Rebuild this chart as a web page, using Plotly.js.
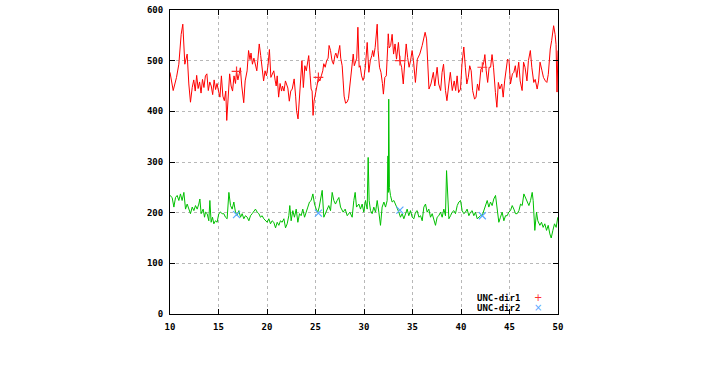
<!DOCTYPE html>
<html>
<head>
<meta charset="utf-8">
<script src="https://cdn.plot.ly/plotly-3.0.1.min.js"></script>
<style>html,body{margin:0;padding:0;background:#fff;}#chart{width:728px;height:382px;}</style>
</head>
<body>
<div id="chart"></div>
<script>
// UNC-dir1 line (red)
const redX = [10.00,10.33,10.67,10.91,11.15,11.32,11.53,11.77,11.94,12.11,12.29,12.45,12.6,12.75,12.9,13.05,13.2,13.35,13.5,13.65,13.8,13.95,14.1,14.25,14.4,14.55,14.7,14.85,15.0,15.15,15.3,15.45,15.6,15.75,15.85,16.0,16.15,16.3,16.45,16.6,16.75,16.86,17.0,17.15,17.25,17.4,17.6,17.75,17.95,18.1,18.25,18.35,18.5,18.65,18.8,18.95,19.05,19.2,19.35,19.5,19.65,19.8,19.95,20.1,20.25,20.4,20.55,20.7,20.85,20.95,21.05,21.2,21.35,21.5,21.6,21.75,21.9,22.0,22.15,22.3,22.45,22.6,22.8,22.95,23.05,23.2,23.35,23.5,23.6,23.75,23.9,24.05,24.2,24.3,24.45,24.55,24.65,24.75,24.85,25.0,25.15,25.3,25.45,25.6,25.75,25.85,26.0,26.15,26.3,26.4,26.55,26.7,26.85,27.0,27.1,27.25,27.4,27.5,27.6,27.75,27.85,27.95,28.1,28.25,28.4,28.55,28.68,28.8,28.89,29.0,29.13,29.25,29.37,29.5,29.6,29.75,29.9,30.0,30.15,30.33,30.5,30.65,30.8,30.9,31.0,31.15,31.36,31.45,31.6,31.75,31.9,32.0,32.15,32.3,32.45,32.5,32.6,32.75,32.9,33.05,33.2,33.35,33.55,33.7,33.88,34.05,34.2,34.35,34.5,34.65,34.8,34.96,35.1,35.3,35.5,35.75,36.0,36.1,36.3,36.45,36.55,36.7,36.9,37.15,37.3,37.54,37.7,37.9,38.05,38.2,38.4,38.55,38.75,38.9,39.1,39.3,39.45,39.6,39.75,39.95,40.1,40.29,40.45,40.6,40.75,40.9,41.05,41.2,41.4,41.55,41.7,41.85,42.05,42.2,42.35,42.46,42.6,42.75,42.9,43.05,43.2,43.35,43.55,43.7,43.85,44.0,44.2,44.35,44.5,44.65,44.8,44.95,45.1,45.3,45.45,45.6,45.75,45.95,46.1,46.3,46.45,46.6,46.8,46.95,47.15,47.3,47.5,47.65,47.85,48.0,48.15,48.35,48.5,48.7,48.85,49.0,49.2,49.35,49.55,49.7,49.8,49.9,50.0];
const redY = [477,441,467,493,552,572,493,513,454,418,447,462,440,471,445,458,436,463,447,470,474,441,458,450,433,462,443,455,440,428,470,430,421,440,382,430,474,450,440,470,455,479,462,475,486,450,417,460,480,520,502,515,493,505,490,480,500,533,510,487,460,480,470,490,522,467,475,480,460,450,470,428,455,440,450,440,460,454,446,420,440,444,464,430,401,385,434,460,500,447,490,480,498,510,470,444,440,392,420,440,450,467,460,470,480,494,487,500,505,530,520,500,493,510,515,505,520,530,505,490,460,430,416,418,425,450,477,495,513,490,497,505,566,487,490,470,461,467,490,536,477,500,510,520,508,526,572,520,487,477,455,434,467,470,530,553,525,530,552,513,533,503,536,500,487,454,496,533,506,487,500,520,500,457,503,513,530,537,556,543,487,444,454,477,450,487,454,441,477,493,441,421,454,477,441,460,441,470,437,444,493,527,487,454,467,490,480,441,424,428,454,441,483,487,497,512,480,457,487,487,512,487,437,408,457,444,454,428,460,480,503,500,454,474,477,490,467,497,460,441,497,487,460,500,520,487,457,463,444,460,497,480,467,460,457,473,523,540,569,552,532,438,520];

// UNC-dir2 line (green)
const greenX = [10.0,10.22,10.40,10.57,10.74,10.91,11.08,11.25,11.43,11.60,11.77,11.94,12.11,12.29,12.46,12.63,12.80,12.97,13.08,13.21,13.42,13.56,13.66,13.83,14.0,14.11,14.24,14.38,14.52,14.69,14.86,15.03,15.21,15.38,15.55,15.72,15.89,16.07,16.24,16.41,16.58,16.75,16.92,17.10,17.27,17.44,17.61,17.78,17.96,18.13,18.30,18.47,18.64,18.81,18.99,19.16,19.33,19.50,19.67,19.85,20.02,20.19,20.36,20.53,20.70,20.88,21.05,21.22,21.39,21.56,21.74,21.91,22.08,22.25,22.35,22.49,22.66,22.83,23.01,23.18,23.35,23.52,23.69,23.87,24.04,24.21,24.38,24.55,24.73,24.90,25.07,25.24,25.38,25.52,25.69,25.86,26.03,26.20,26.37,26.55,26.72,26.89,27.06,27.23,27.41,27.58,27.85,28.06,28.27,28.54,28.78,28.95,29.09,29.23,29.47,29.64,29.81,29.98,30.15,30.33,30.43,30.53,30.67,30.84,31.01,31.19,31.36,31.53,31.70,31.87,32.05,32.22,32.39,32.47,32.51,32.55,32.62,32.73,32.90,33.08,33.25,33.42,33.59,33.76,33.93,34.11,34.28,34.45,34.62,34.79,34.97,35.14,35.31,35.48,35.66,35.83,36.0,36.17,36.34,36.51,36.68,36.86,37.03,37.20,37.37,37.54,37.71,37.89,38.06,38.23,38.40,38.51,38.61,38.75,38.92,39.09,39.26,39.43,39.61,39.78,39.95,40.12,40.29,40.46,40.63,40.81,40.98,41.15,41.32,41.49,41.67,41.84,42.01,42.18,42.35,42.53,42.70,42.87,43.04,43.21,43.38,43.56,43.73,43.90,44.07,44.24,44.42,44.59,44.76,44.93,45.10,45.28,45.45,45.62,45.79,45.97,46.14,46.31,46.48,46.65,46.82,47.0,47.17,47.34,47.44,47.51,47.61,47.78,47.92,48.13,48.30,48.47,48.64,48.82,48.99,49.16,49.30,49.47,49.64,49.81,49.98];
const greenY = [234,230,211,230,234,224,237,224,240,207,217,207,198,211,204,214,207,217,227,198,207,191,201,198,184,224,181,191,178,184,181,198,201,198,198,191,188,240,214,207,221,201,194,204,191,198,188,194,191,184,194,198,204,207,201,198,191,194,188,184,181,188,178,184,181,170,181,175,184,181,188,170,178,194,214,184,204,191,207,181,198,194,207,191,204,211,221,224,237,217,207,201,211,227,244,191,198,207,214,204,240,224,217,224,230,211,201,207,194,201,191,224,240,211,217,207,217,201,224,207,309,224,204,198,211,201,224,201,175,211,221,211,224,312,240,424,250,234,221,224,217,207,201,191,198,188,198,207,194,204,191,188,201,204,191,194,184,211,217,201,207,191,198,188,175,191,194,201,191,207,194,283,230,188,194,201,204,198,214,221,224,204,198,201,207,194,201,204,194,201,188,191,194,194,204,217,224,211,221,214,227,234,204,181,191,201,184,194,194,201,204,214,207,198,198,204,217,214,237,230,224,214,224,240,224,191,165,201,184,175,181,171,178,165,175,158,150,165,178,171,191];

// point markers
const markX = [16.86, 25.3, 33.7, 42.2];
const dir1Y = [479, 467, 500, 487];
const dir2Y = [196, 199, 205, 194];

const xTicks = [10, 15, 20, 25, 30, 35, 40, 45, 50];
const yTicks = [0, 100, 200, 300, 400, 500, 600];
const legendNames = ["UNC-dir1", "UNC-dir2"];

const tickFont = {family: "DejaVu Sans Mono", size: 9, color: "#000", weight: "bold"};

const traces = [
  {x: redX, y: redY, type: "scatter", mode: "lines", line: {color: "#ff0000", width: 1}, showlegend: false, hoverinfo: "skip"},
  {x: greenX, y: greenY, type: "scatter", mode: "lines", line: {color: "#00c000", width: 1}, showlegend: false, hoverinfo: "skip"},
  {x: markX, y: dir1Y, type: "scatter", mode: "markers", name: legendNames[0], marker: {symbol: "cross-thin-open", size: 7, color: "#ff3030", line: {color: "#ff3030", width: 1.2}}, showlegend: false},
  {x: markX, y: dir2Y, type: "scatter", mode: "markers", name: legendNames[1], marker: {symbol: "x-thin-open", size: 7, color: "#5aa8ff", line: {color: "#5aa8ff", width: 1.2}}, showlegend: false}
];

const axisCommon = {
  showline: true, linecolor: "#000", linewidth: 1, mirror: "ticks",
  ticks: "inside", ticklen: 5, tickcolor: "#000", tickwidth: 1,
  showgrid: true, gridcolor: "#b8b8b8", griddash: "dot", gridwidth: 1,
  zeroline: false, tickfont: tickFont, fixedrange: true
};

const legFont = {family: "DejaVu Sans Mono", size: 9, color: "#000", weight: "bold"};

const layout = {
  width: 728, height: 382,
  margin: {l: 170, r: 170, t: 10, b: 68, pad: 0},
  paper_bgcolor: "#fff", plot_bgcolor: "#fff",
  showlegend: false,
  xaxis: Object.assign({}, axisCommon, {range: [10, 50], tickvals: xTicks, ticktext: xTicks.map(String), ticklabelstandoff: 4}),
  yaxis: Object.assign({}, axisCommon, {range: [0, 600], tickvals: yTicks, ticktext: yTicks.map(String), ticklabelstandoff: 4}),
  annotations: [
    {xref: "paper", yref: "paper", x: 0.907, y: 0.053, xanchor: "right", yanchor: "middle", height: 9, text: legendNames[0], showarrow: false, font: legFont},
    {xref: "paper", yref: "paper", x: 0.907, y: 0.020, xanchor: "right", yanchor: "middle", height: 9, text: legendNames[1], showarrow: false, font: legFont},
    {xref: "paper", yref: "paper", x: 0.948, y: 0.053, xanchor: "center", yanchor: "middle", height: 9, text: "+", showarrow: false, font: {family: "DejaVu Sans", size: 10, color: "#ff3030"}},
    {xref: "paper", yref: "paper", x: 0.948, y: 0.020, xanchor: "center", yanchor: "middle", height: 9, text: "×", showarrow: false, font: {family: "DejaVu Sans", size: 10, color: "#5aa8ff"}}
  ]
};

Plotly.newPlot("chart", traces, layout, {staticPlot: true, displayModeBar: false});
</script>
</body>
</html>
